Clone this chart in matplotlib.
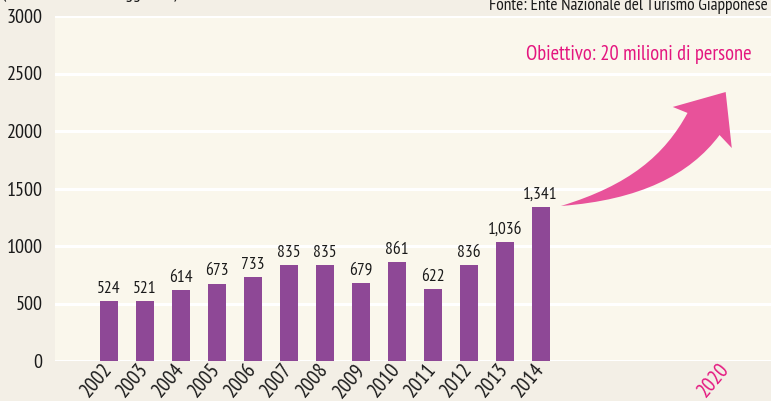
import matplotlib
matplotlib.use("Agg")
import matplotlib.pyplot as plt
import matplotlib.transforms as mtransforms
from matplotlib.path import Path
from matplotlib.patches import PathPatch

years = [2002, 2003, 2004, 2005, 2006, 2007, 2008, 2009, 2010, 2011, 2012, 2013, 2014]
visitors = [524, 521, 614, 673, 733, 835, 835, 679, 861, 622, 836, 1036, 1341]
value_labels = ["524", "521", "614", "673", "733", "835", "835", "679", "861", "622", "836", "1,036", "1,341"]
target_label = "2020"
yticks = [0, 500, 1000, 1500, 2000, 2500, 3000]

FONT = ["PT Sans Narrow", "Roboto Condensed", "DejaVu Sans"]
BG = "#f3efe6"
PLOT_BG = "#faf7ec"
PURPLE = "#8e4896"
PINK = "#e8529a"
MAGENTA = "#e4167f"
INK = "#1a1a1a"

plt.rcParams["font.family"] = FONT

fig = plt.figure(figsize=(7.71, 4.01), dpi=100, facecolor=BG)
ax = fig.add_axes([55 / 771, 40 / 401, 716 / 771, 345 / 401])
ax.set_facecolor(PLOT_BG)

ax.bar(years, visitors, width=0.5, color=PURPLE, zorder=3)
for x, v, s in zip(years, visitors, value_labels):
    ax.annotate(s, (x, v), xytext=(0, 3), textcoords="offset points",
                ha="center", va="bottom", fontsize=12.5, color=INK, zorder=4)

ax.set_xlim(2000.5, 2020.4)
ax.set_ylim(0, 3000)
ax.set_yticks(yticks)
ax.set_yticklabels([str(t) for t in yticks], fontsize=14.5, color=INK)
for t in yticks:
    ax.axhline(t, color="white", lw=2.2, zorder=1)

# curved growth arrow towards the 2020 target (the axis is compressed after 2014)
tip_x = 2019.14
verts = [
    (2014.56, 1348),
    (2016.47, 1530), (2017.44, 1790), (2018.08, 2157),
    (2017.67, 2209),
    (tip_x, 2339),
    (2019.31, 1852),
    (2018.97, 1965),
    (2018.14, 1618), (2016.75, 1400), (2014.56, 1348),
]
codes = [Path.MOVETO, Path.CURVE4, Path.CURVE4, Path.CURVE4,
         Path.LINETO, Path.LINETO, Path.LINETO, Path.LINETO,
         Path.CURVE4, Path.CURVE4, Path.CURVE4]
ax.add_patch(PathPatch(Path(verts, codes), facecolor=PINK, edgecolor="none", zorder=3))

ax.set_xticks(years + [tip_x])
ax.set_xticklabels([str(y) for y in years] + [target_label], fontsize=15, rotation=50,
                   ha="right", va="center", rotation_mode="anchor")
offset = mtransforms.ScaledTranslation(16 / 72, -7 / 72, fig.dpi_scale_trans)
for lab in ax.get_xticklabels():
    lab.set_transform(lab.get_transform() + offset)
    lab.set_color(INK)
ax.get_xticklabels()[-1].set_color(MAGENTA)

ax.tick_params(axis="both", length=0)
ax.tick_params(axis="y", pad=9)
for sp in ax.spines.values():
    sp.set_visible(False)

fig.text(639 / 771, 1 - 55 / 401, "Obiettivo: 20 milioni di persone",
         ha="center", va="center", fontsize=14.8, color=MAGENTA)
fig.text(768 / 771, 1 - 6 / 401, "Fonte: Ente Nazionale del Turismo Giapponese",
         ha="right", va="center", fontsize=12.5, color=INK)
fig.text(2 / 771, 1 + 6 / 401, "(Unità: diecimila viaggiatori)",
         ha="left", va="center", fontsize=13, color=INK)

fig.savefig("out.png", dpi=100, facecolor=BG)
